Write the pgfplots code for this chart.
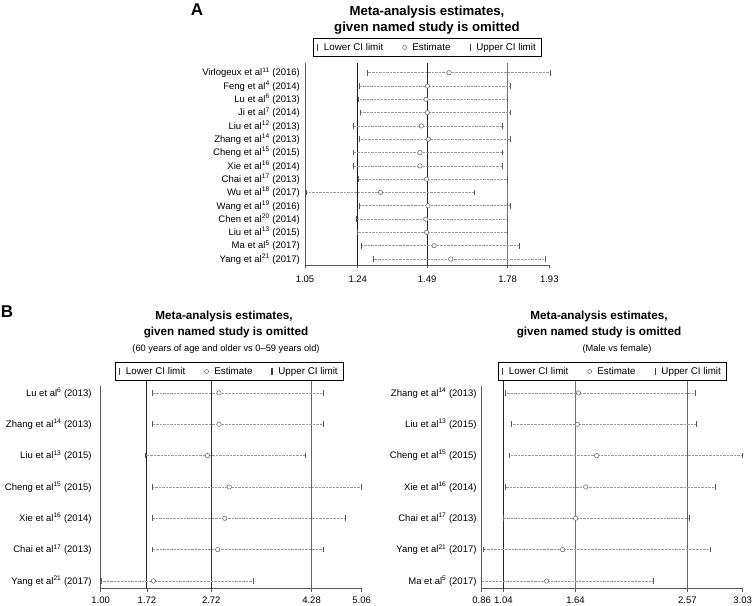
\documentclass[border=0pt]{standalone}
\usepackage{pgfplots}
\usepackage{pgfplotstable}
\pgfplotsset{compat=1.18}
\usepackage{fontspec}
\setmainfont{Liberation Sans}

\pgfplotstableread{
row lo est up
1 1.276 1.569 1.935
2 1.247 1.491 1.789
3 1.241 1.486 1.781
4 1.249 1.491 1.789
5 1.226 1.469 1.763
6 1.246 1.494 1.790
7 1.223 1.464 1.763
8 1.223 1.464 1.760
9 1.242 1.488 1.780
10 1.054 1.322 1.662
11 1.247 1.493 1.789
12 1.237 1.485 1.780
13 1.240 1.488 1.780
14 1.255 1.515 1.823
15 1.297 1.575 1.916
}\tableA

\pgfplotstableread{
row lo est up
1 1.809 2.84 4.46
2 1.809 2.84 4.47
3 1.700 2.66 4.19
4 1.800 3.00 5.05
5 1.800 2.93 4.80
6 1.810 2.82 4.46
7 1.005 1.82 3.38
}\tableBL

\pgfplotstableread{
row lo est up
1 1.054 1.664 2.639
2 1.104 1.655 2.647
3 1.090 1.816 3.030
4 1.054 1.725 2.800
5 1.040 1.641 2.586
6 0.875 1.533 2.758
7 0.860 1.400 2.287
}\tableBR

\pgfplotsset{
  forest/.style={
    scale only axis,
    axis x line=bottom, axis y line=left,
    axis line style={-, black!65, line width=0.9pt},
    tick align=outside, major tick length=3pt,
    xtick style={black!65, line width=0.8pt},
    ytick style={draw=none},
    y dir=reverse,
    clip=false,
    tick label style={font=\fontsize{9.5}{11}\selectfont},
    yticklabel style={inner sep=0pt, xshift=-2pt},
    legend columns=3,
    legend cell align=left,
  },
  cimarks/.style={
    forget plot, only marks, mark=*, mark size=2.2pt,
    mark options={fill=white, draw=black!55, line width=0.6pt},
    error bars/.cd, x dir=both, x explicit,
    error bar style={black!40, densely dotted, line width=0.6pt},
    error mark options={black!65, mark size=2.8pt, line width=0.9pt, solid, rotate=90},
  },
  forestlegend/.style={
    legend style={draw=black, line width=0.8pt,
      font=\fontsize{9.8}{11}\selectfont,
      inner xsep=3.5pt, inner ysep=2.8pt,
      /tikz/every odd column/.append style={column sep=3.5pt},
      /tikz/every even column/.append style={column sep=17pt}},
  },
}

\newcommand{\cilegend}{%
  \addlegendimage{legend image code/.code={\draw[black!75, line width=1.4pt] (0pt,-3.5pt) -- (0pt,3.5pt);}}
  \addlegendentry{Lower CI limit}
  \addlegendimage{legend image code/.code={\draw[black!55, line width=0.6pt, fill=white] (0pt,0pt) circle (2pt);}}
  \addlegendentry{Estimate}
  \addlegendimage{legend image code/.code={\draw[black!75, line width=1.4pt] (0pt,-3.5pt) -- (0pt,3.5pt);}}
  \addlegendentry{Upper CI limit}
}

\begin{document}
\begin{tikzpicture}
\useasboundingbox (0pt,0pt) rectangle (752pt,605pt);

% Panel labels and titles
\node[font=\bfseries\fontsize{17}{20}\selectfont] at (197pt,595pt) {A};
\node[font=\bfseries\fontsize{17}{20}\selectfont] at (7pt,293pt) {B};

\node[font=\bfseries\fontsize{13.2}{15}\selectfont] at (427pt,593pt) {Meta-analysis estimates,};
\node[font=\bfseries\fontsize{13.2}{15}\selectfont] at (427pt,577pt) {given named study is omitted};

\node[font=\bfseries\fontsize{11.7}{14}\selectfont] at (224pt,289pt) {Meta-analysis estimates,};
\node[font=\bfseries\fontsize{11.7}{14}\selectfont] at (226pt,272pt) {given named study is omitted};
\node[font=\fontsize{9.3}{11}\selectfont] at (226pt,256pt) {(60 years of age and older vs 0--59 years old)};

\node[font=\bfseries\fontsize{11.7}{14}\selectfont] at (599pt,289pt) {Meta-analysis estimates,};
\node[font=\bfseries\fontsize{11.7}{14}\selectfont] at (599pt,272pt) {given named study is omitted};
\node[font=\fontsize{9.3}{11}\selectfont] at (617pt,256pt) {(Male vs female)};

% ---------------- Panel A ----------------
\begin{axis}[forest, forestlegend,
  at={(305pt,340pt)}, anchor=south west,
  width=244.3pt, height=202pt,
  xmin=1.05, xmax=1.93, ymin=0.27, ymax=15.45,
  xtick={1.05,1.24,1.49,1.78,1.93},
  xticklabels={1.05,1.24,1.49,1.78,1.93},
  xticklabel style={yshift=-4pt},
  ytick={1,...,15},
  yticklabels={
    Virlogeux et al\textsuperscript{11} (2016),
    Feng et al\textsuperscript{4} (2014),
    Lu et al\textsuperscript{6} (2013),
    Ji et al\textsuperscript{7} (2014),
    Liu et al\textsuperscript{12} (2013),
    Zhang et al\textsuperscript{14} (2013),
    Cheng et al\textsuperscript{15} (2015),
    Xie et al\textsuperscript{16} (2014),
    Chai et al\textsuperscript{17} (2013),
    Wu et al\textsuperscript{18} (2017),
    Wang et al\textsuperscript{19} (2016),
    Chen et al\textsuperscript{20} (2014),
    Liu et al\textsuperscript{13} (2015),
    Ma et al\textsuperscript{5} (2017),
    Yang et al\textsuperscript{21} (2017)},
  legend style={at={(0.501,1)}, anchor=south, yshift=6pt},
]
\addplot[forget plot, black!90, line width=1pt] coordinates {(1.24,0.27) (1.24,15.45)};
\addplot[forget plot, black!85, line width=1pt] coordinates {(1.49,0.27) (1.49,15.45)};
\addplot[forget plot, black!55, line width=1pt] coordinates {(1.78,0.27) (1.78,15.45)};
\addplot[cimarks] table[x=est, y=row,
   x error plus expr=\thisrow{up}-\thisrow{est},
   x error minus expr=\thisrow{est}-\thisrow{lo}] {\tableA};
\cilegend
\end{axis}

% ---------------- Panel B left ----------------
\begin{axis}[forest, forestlegend,
  at={(100.7pt,16.5pt)}, anchor=south west,
  width=261pt, height=202.5pt,
  xmin=1.00, xmax=5.06, ymin=0.78, ymax=7.24,
  xtick={1.00,1.72,2.72,4.28,5.06},
  xticklabels={1.00,1.72,2.72,4.28,5.06},
  xticklabel style={yshift=-2pt},
  ytick={1,...,7},
  yticklabels={
    Lu et al\textsuperscript{6} (2013),
    Zhang et al\textsuperscript{14} (2013),
    Liu et al\textsuperscript{13} (2015),
    Cheng et al\textsuperscript{15} (2015),
    Xie et al\textsuperscript{16} (2014),
    Chai et al\textsuperscript{17} (2013),
    Yang et al\textsuperscript{21} (2017)},
  yticklabel style={xshift=-4pt},
  legend style={at={(0.493,1)}, anchor=south, yshift=5pt},
]
\addplot[forget plot, black!85, line width=1pt] coordinates {(1.72,0.59) (1.72,7.24)};
\addplot[forget plot, black!80, line width=1pt] coordinates {(2.72,0.59) (2.72,7.24)};
\addplot[forget plot, black!60, line width=1pt] coordinates {(4.28,0.59) (4.28,7.24)};
\addplot[cimarks] table[x=est, y=row,
   x error plus expr=\thisrow{up}-\thisrow{est},
   x error minus expr=\thisrow{est}-\thisrow{lo}] {\tableBL};
\cilegend
\end{axis}

% ---------------- Panel B right ----------------
\begin{axis}[forest, forestlegend,
  at={(481.7pt,16.5pt)}, anchor=south west,
  width=261pt, height=202.5pt,
  xmin=0.86, xmax=3.03, ymin=0.78, ymax=7.24,
  xtick={0.86,1.04,1.64,2.57,3.03},
  xticklabels={0.86,1.04,1.64,2.57,3.03},
  xticklabel style={yshift=-2pt},
  ytick={1,...,7},
  yticklabels={
    Zhang et al\textsuperscript{14} (2013),
    Liu et al\textsuperscript{13} (2015),
    Cheng et al\textsuperscript{15} (2015),
    Xie et al\textsuperscript{16} (2014),
    Chai et al\textsuperscript{17} (2013),
    Yang et al\textsuperscript{21} (2017),
    Ma et al\textsuperscript{5} (2017)},
  legend style={at={(0.501,1)}, anchor=south, yshift=5pt},
]
\addplot[forget plot, black!85, line width=1pt] coordinates {(1.04,0.59) (1.04,7.24)};
\addplot[forget plot, black!55, line width=1pt] coordinates {(1.64,0.59) (1.64,7.24)};
\addplot[forget plot, black!60, line width=1pt] coordinates {(2.57,0.59) (2.57,7.24)};
\addplot[cimarks] table[x=est, y=row,
   x error plus expr=\thisrow{up}-\thisrow{est},
   x error minus expr=\thisrow{est}-\thisrow{lo}] {\tableBR};
\cilegend
\end{axis}
\end{tikzpicture}
\end{document}
